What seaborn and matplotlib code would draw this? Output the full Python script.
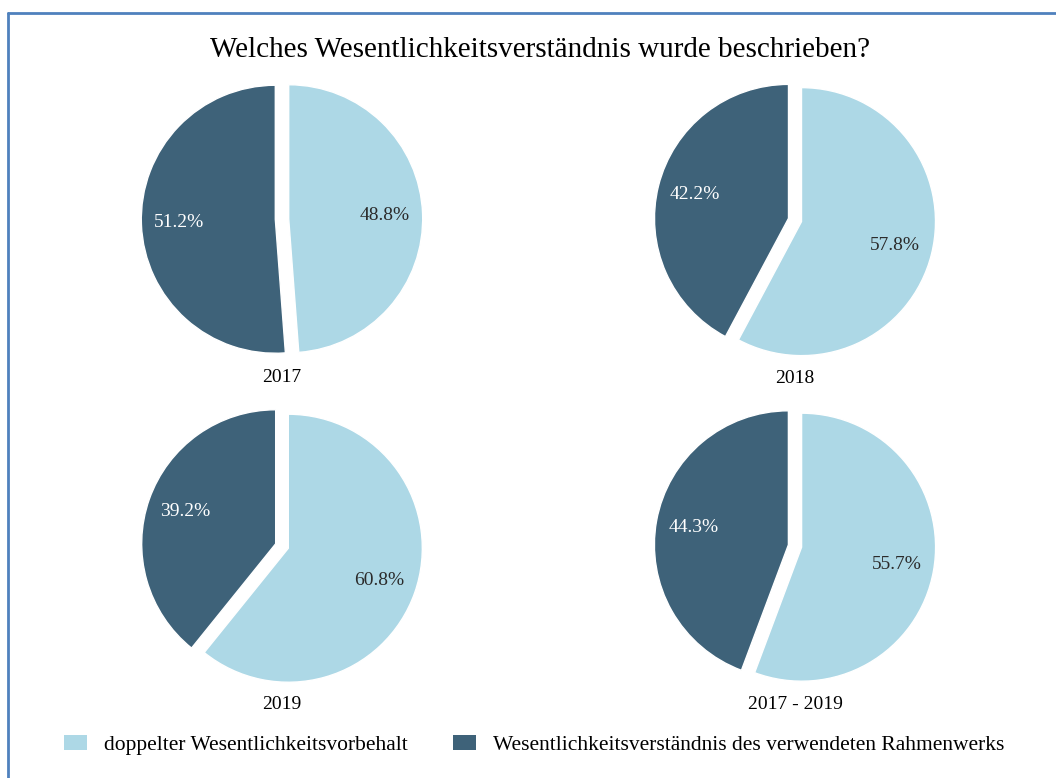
import matplotlib
matplotlib.use("Agg")
import matplotlib.pyplot as plt
import seaborn as sns
from matplotlib.patches import Patch
from matplotlib.lines import Line2D

# Daten
titel = "Welches Wesentlichkeitsverständnis wurde beschrieben?"
jahre = ["2017", "2018", "2019", "2017 - 2019"]
kategorien = ["doppelter Wesentlichkeitsvorbehalt",
              "Wesentlichkeitsverständnis des verwendeten Rahmenwerks"]
anteil_doppelt = [48.8, 57.8, 60.8, 55.7]
anteil_rahmenwerk = [51.2, 42.2, 39.2, 44.3]
farben = ["#add8e6", "#3e6279"]
textfarben = ["#2b2b2b", "#ffffff"]

sns.set_theme(style="white")
plt.rcParams['font.family'] = ['Liberation Serif', 'DejaVu Serif']
plt.rcParams['text.color'] = 'black'

W, H = 1056, 778
fig = plt.figure(figsize=(W / 100, H / 100), dpi=100)
fig.patch.set_facecolor("white")

# Rahmen (links und oben sichtbar)
rand = "#4f81bd"
fig.add_artist(Line2D([8 / W, 8 / W], [0, 1 - 13 / H], color=rand, lw=2))
fig.add_artist(Line2D([8 / W, 1], [1 - 13 / H, 1 - 13 / H], color=rand, lw=2))

fig.text(540 / W, 1 - 50 / H, titel, ha="center", va="center", fontsize=21)

# Mittelpunkte der Kreise in Pixeln
zentren = [(282, 219), (795, 220), (282, 546), (795, 546)]
R = 134
lim = 1.1
size = 2 * lim * R

for (cx, cy), jahr, a, b in zip(zentren, jahre, anteil_doppelt, anteil_rahmenwerk):
    ax = fig.add_axes([(cx - size / 2) / W, 1 - (cy + size / 2) / H, size / W, size / H])
    wedges, texts, autotexts = ax.pie(
        [a, b], colors=farben, startangle=90, counterclock=False,
        explode=(0.05, 0.05), autopct="%.1f%%", pctdistance=0.72,
        textprops={"fontsize": 14},
    )
    for t, c in zip(autotexts, textfarben):
        t.set_color(c)
    ax.set_xlim(-lim, lim)
    ax.set_ylim(-lim, lim)
    ax.text(0, -1.18, jahr, ha="center", va="center", fontsize=14, clip_on=False)
    ax.axis("off")

handles = [Patch(facecolor=f, edgecolor="none", label=k) for f, k in zip(farben, kategorien)]
fig.legend(handles=handles, loc="center", bbox_to_anchor=(534 / W, 1 - 745 / H),
           ncol=2, frameon=False, fontsize=15.5, handlelength=1.07, handleheight=0.7,
           handletextpad=0.8, columnspacing=2.1)

plt.savefig("out.png", dpi=100)
